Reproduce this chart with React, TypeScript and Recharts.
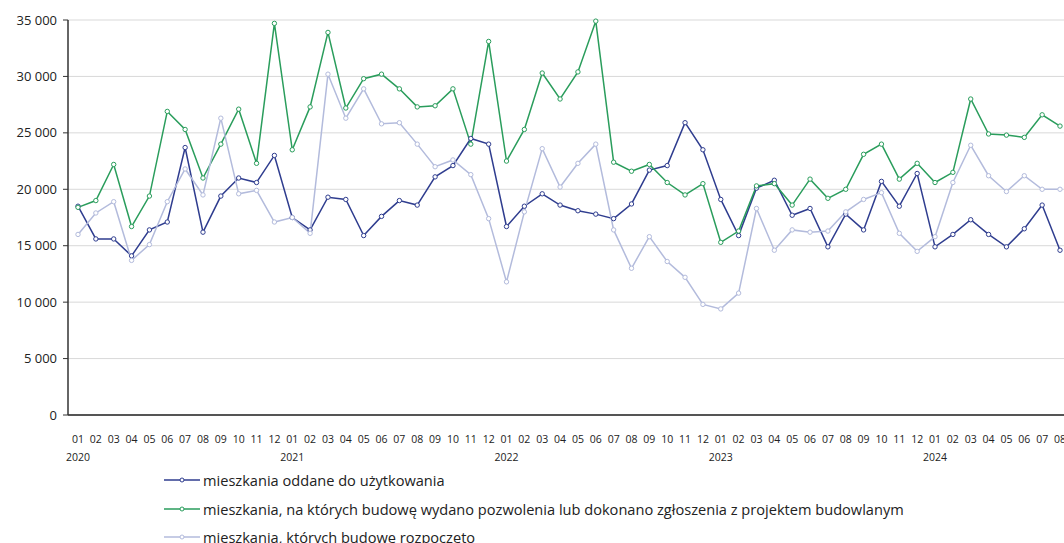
import React from "react";
import { LineChart, Line, XAxis, YAxis, CartesianGrid, Legend } from "recharts";

const months = [
  "01", "02", "03", "04", "05", "06", "07", "08", "09", "10", "11", "12",
  "01", "02", "03", "04", "05", "06", "07", "08", "09", "10", "11", "12",
  "01", "02", "03", "04", "05", "06", "07", "08", "09", "10", "11", "12",
  "01", "02", "03", "04", "05", "06", "07", "08", "09", "10", "11", "12",
  "01", "02", "03", "04", "05", "06", "07", "08",
];

const yearLabels: Record<number, string> = { 0: "2020", 12: "2021", 24: "2022", 36: "2023", 48: "2024" };

const oddane = [
  18500, 15600, 15600, 14100, 16400, 17100, 23700, 16200, 19400, 21000, 20600, 23000,
  17500, 16400, 19300, 19100, 15900, 17600, 19000, 18600, 21100, 22100, 24500, 24000,
  16700, 18500, 19600, 18600, 18100, 17800, 17400, 18700, 21700, 22100, 25900, 23500,
  19100, 15900, 20100, 20800, 17700, 18300, 14900, 17800, 16400, 20700, 18500, 21400,
  14900, 16000, 17300, 16000, 14900, 16500, 18600, 14600,
];

const pozwolenia = [
  18400, 19000, 22200, 16700, 19400, 26900, 25300, 21000, 24000, 27100, 22300, 34700,
  23500, 27300, 33900, 27200, 29800, 30200, 28900, 27300, 27400, 28900, 24000, 33100,
  22500, 25300, 30300, 28000, 30400, 34900, 22400, 21600, 22200, 20600, 19500, 20500,
  15300, 16300, 20300, 20500, 18600, 20900, 19200, 20000, 23100, 24000, 20900, 22300,
  20600, 21500, 28000, 24900, 24800, 24600, 26600, 25600,
];

const rozpoczete = [
  16000, 17900, 18900, 13700, 15100, 18900, 21800, 19500, 26300, 19600, 19900, 17100,
  17500, 16100, 30200, 26300, 28900, 25800, 25900, 24000, 22000, 22600, 21300, 17400,
  11800, 18000, 23600, 20200, 22300, 24000, 16400, 13000, 15800, 13600, 12200, 9800,
  9400, 10800, 18300, 14600, 16400, 16200, 16300, 18000, 19100, 19700, 16100, 14500,
  15800, 20600, 23900, 21200, 19800, 21200, 20000, 20000,
];

const yTicks = [0, 5000, 10000, 15000, 20000, 25000, 30000, 35000];

const seriesNames = [
  "mieszkania oddane do użytkowania",
  "mieszkania, na których budowę wydano pozwolenia lub dokonano zgłoszenia z projektem budowlanym",
  "mieszkania, których budowę rozpoczęto",
];

const COLORS = ["#2f3d8f", "#2a9d5c", "#b3bbdc"];
const FONT = "'Open Sans', 'Noto Sans', sans-serif";

const data = months.map((m, i) => ({
  idx: i,
  month: m,
  oddane: oddane[i],
  pozwolenia: pozwolenia[i],
  rozpoczete: rozpoczete[i],
}));

const fmt = (v: number) => {
  const s = String(v);
  return s.replace(/\B(?=(\d{3})+(?!\d))/g, " ");
};

const XTick = (props: any) => {
  const { x, y, payload } = props;
  const i = payload.value as number;
  const year = yearLabels[i];
  return (
    <g>
      <text x={x} y={y + 20} textAnchor="middle" fontSize={10.5} fill="#222" fontFamily={FONT}>
        {months[i]}
      </text>
      {year ? (
        <text x={x} y={y + 38} textAnchor="middle" fontSize={10.5} fill="#222" fontFamily={FONT}>
          {year}
        </text>
      ) : null}
    </g>
  );
};

const renderLegend = (props: any) => {
  const payload = [...(props.payload || [])].sort(
    (a: any, b: any) => seriesNames.indexOf(a.value) - seriesNames.indexOf(b.value)
  );
  return (
    <div style={{ fontFamily: FONT }}>
      {payload.map((p: any, k: number) => (
        <div key={k} style={{ display: "flex", alignItems: "center", height: 28.5 }}>
          <svg width={38} height={10} style={{ marginRight: 1 }}>
            <line x1={0} y1={5} x2={36} y2={5} stroke={p.color} strokeWidth={1.5} />
            <circle cx={18} cy={5} r={2} fill="#fff" stroke={p.color} strokeWidth={1} />
          </svg>
          <span style={{ fontSize: 14.6, color: "#222", whiteSpace: "nowrap" }}>{p.value}</span>
        </div>
      ))}
    </div>
  );
};

export default function App() {
  return (
    <div style={{ position: "absolute", left: 0, top: 0, width: 1064, height: 543, overflow: "hidden", background: "#fff" }}>
      <LineChart width={1068} height={543} data={data} margin={{ top: 20, right: 0, bottom: 88, left: 0 }}>
        <CartesianGrid vertical={false} stroke="#d9d9d9" strokeWidth={1} />
        <XAxis
          dataKey="idx"
          type="category"
          tick={<XTick />}
          tickLine={false}
          axisLine={{ stroke: "#555", strokeWidth: 2 }}
          interval={0}
          padding={{ left: 10, right: 8 }}
          height={40}
        />
        <YAxis
          domain={[0, 35000]}
          ticks={yTicks}
          width={68}
          tickFormatter={fmt}
          tick={{ fontSize: 13, fill: "#222", fontFamily: FONT }}
          tickLine={{ stroke: "#333" }}
          tickSize={5}
          tickMargin={6}
          axisLine={{ stroke: "#333", strokeWidth: 1.5 }}
          interval={0}
        />
        <Legend
          verticalAlign="middle"
          align="center"
          layout="vertical"
          content={renderLegend}
          wrapperStyle={{ position: "absolute", left: 164, top: 466, width: 890 }}
        />
        <Line
          type="linear"
          dataKey="oddane"
          name={seriesNames[0]}
          stroke={COLORS[0]}
          strokeWidth={1.5}
          dot={{ r: 2.2, fill: "#fff", stroke: COLORS[0], strokeWidth: 1 }}
          isAnimationActive={false}
        />
        <Line
          type="linear"
          dataKey="pozwolenia"
          name={seriesNames[1]}
          stroke={COLORS[1]}
          strokeWidth={1.5}
          dot={{ r: 2.2, fill: "#fff", stroke: COLORS[1], strokeWidth: 1 }}
          isAnimationActive={false}
        />
        <Line
          type="linear"
          dataKey="rozpoczete"
          name={seriesNames[2]}
          stroke={COLORS[2]}
          strokeWidth={1.5}
          dot={{ r: 2.2, fill: "#fff", stroke: COLORS[2], strokeWidth: 1 }}
          isAnimationActive={false}
        />
      </LineChart>
    </div>
  );
}
